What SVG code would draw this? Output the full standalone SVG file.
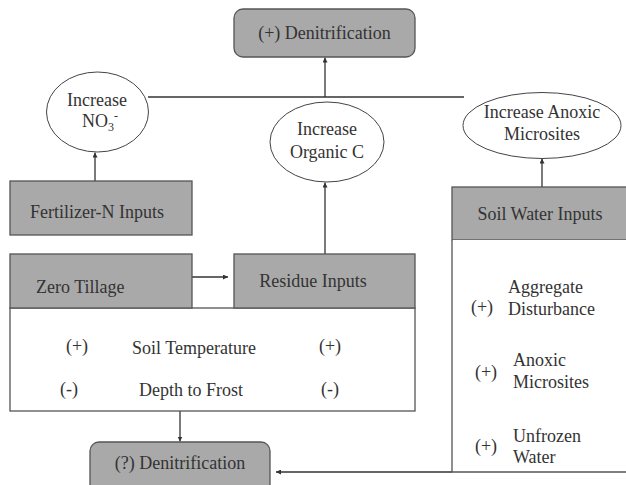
<svg xmlns="http://www.w3.org/2000/svg" width="626" height="485" viewBox="0 0 626 485">
<defs>
<style>
text{font-family:"Liberation Serif","Times New Roman",serif;font-size:18px;fill:#333;}
.c{text-anchor:middle;}
.g{fill:#a9a9a9;stroke:#555;stroke-width:1.3;}
.w{fill:#fff;stroke:#555;stroke-width:1.3;}
.e{fill:#fff;stroke:#444;stroke-width:1;}
.ln{fill:none;stroke:#333;stroke-width:1.3;}
</style>
<marker id="ah" viewBox="0 0 10 10" refX="10" refY="5" markerWidth="5" markerHeight="5" orient="auto" markerUnits="userSpaceOnUse">
<path d="M0,0 L10,5 L0,10 z" fill="#333"/>
</marker>
</defs>
<rect width="626" height="485" fill="#fff"/>

<g id="connectors">
<line class="ln" x1="148" y1="97" x2="464" y2="97"/>
<line class="ln" x1="325" y1="97" x2="325" y2="57.5" marker-end="url(#ah)"/>
<line class="ln" x1="95" y1="181" x2="95" y2="152.5" marker-end="url(#ah)"/>
<line class="ln" x1="325" y1="254" x2="325" y2="182.5" marker-end="url(#ah)"/>
<line class="ln" x1="542" y1="187" x2="542" y2="158.5" marker-end="url(#ah)"/>
<line class="ln" x1="192" y1="277" x2="228" y2="277" marker-end="url(#ah)"/>
<line class="ln" x1="180" y1="411" x2="180" y2="441.5" marker-end="url(#ah)"/>
<line class="ln" x1="452" y1="472" x2="276" y2="472" marker-end="url(#ah)"/>
</g>

<g id="denitrification-top">
<rect class="g" x="234" y="9" width="181" height="48" rx="9"/>
<text class="c" x="324.5" y="39">(+) Denitrification</text>
</g>

<g id="increase-no3">
<ellipse class="e" cx="97.5" cy="112" rx="51" ry="40"/>
<text class="c" x="97" y="106">Increase</text>
<text class="c" x="100" y="127">NO<tspan font-size="12" dy="4">3</tspan><tspan font-size="12" dy="-11">-</tspan></text>
</g>

<g id="increase-organic-c">
<ellipse class="e" cx="327" cy="142" rx="57" ry="40"/>
<text class="c" x="327" y="135">Increase</text>
<text class="c" x="327" y="158">Organic C</text>
</g>

<g id="increase-anoxic">
<ellipse class="e" cx="542" cy="125.5" rx="79" ry="33"/>
<text class="c" x="542" y="118">Increase Anoxic</text>
<text class="c" x="542" y="140">Microsites</text>
</g>

<g id="fertilizer">
<rect class="g" x="10" y="181" width="182" height="54"/>
<text class="c" x="97" y="218">Fertilizer-N Inputs</text>
</g>

<g id="soil-water">
<rect class="g" x="452" y="187" width="180" height="53"/>
<text class="c" x="540" y="220">Soil Water Inputs</text>
</g>

<g id="soil-water-effects">
<path class="w" d="M452,240 V472 H632 V240"/>
<text class="c" x="482" y="313">(+)</text>
<text x="508" y="293">Aggregate</text>
<text x="508" y="315">Disturbance</text>
<text class="c" x="486" y="378">(+)</text>
<text x="513" y="366">Anoxic</text>
<text x="513" y="388">Microsites</text>
<text class="c" x="486" y="452">(+)</text>
<text x="513" y="442">Unfrozen</text>
<text x="513" y="463">Water</text>
</g>

<g id="tillage-effects">
<rect class="w" x="10" y="308" width="405" height="103"/>
<text class="c" x="77" y="352">(+)</text>
<text x="132" y="354">Soil Temperature</text>
<text class="c" x="330" y="352">(+)</text>
<text class="c" x="69" y="395">(-)</text>
<text x="139" y="396">Depth to Frost</text>
<text class="c" x="330" y="395">(-)</text>
</g>

<g id="zero-tillage">
<rect class="g" x="10" y="254" width="182" height="54"/>
<text x="36" y="293">Zero Tillage</text>
</g>

<g id="residue">
<rect class="g" x="234" y="254" width="181" height="54"/>
<text class="c" x="313" y="287">Residue Inputs</text>
</g>

<g id="denitrification-bottom">
<rect class="g" x="90" y="442" width="180" height="56" rx="9"/>
<text class="c" x="180" y="469">(?) Denitrification</text>
</g>
</svg>
